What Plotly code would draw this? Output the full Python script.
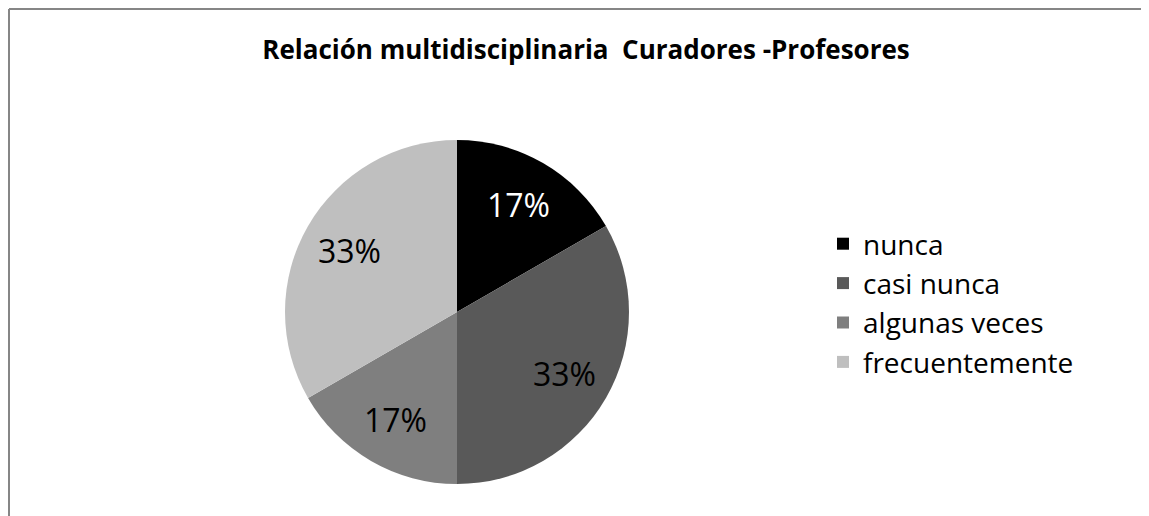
import math
import plotly.graph_objects as go

categories = ["nunca", "casi nunca", "algunas veces", "frecuentemente"]
values = [1, 2, 1, 2]
colors = ["#000000", "#595959", "#7f7f7f", "#bfbfbf"]
label_colors = ["#ffffff", "#000000", "#000000", "#000000"]

W, H = 1149, 516
# page has an 8px body margin, so figure coords are screen coords minus 8
cx, cy, r = 449, 304, 172

fig = go.Figure(data=[
    go.Pie(labels=categories, values=values, sort=False, direction='clockwise', rotation=0,
           marker=dict(colors=colors, line=dict(width=0)),
           textinfo='none', hoverinfo='label+percent',
           domain=dict(x=[(cx - r) / W, (cx + r) / W], y=[(H - cy - r) / H, (H - cy + r) / H]))
])

# percentage labels at ~0.72 of the radius, on each slice's mid angle
total = sum(values)
start = 0
annotations = []
for v, col in zip(values, label_colors):
    mid = (start + v / 2) / total * 2 * math.pi
    start += v
    d = 0.72 * r
    annotations.append(dict(
        x=(cx + d * math.sin(mid)) / W, y=1 - (cy - d * math.cos(mid)) / H,
        xref='paper', yref='paper', xanchor='center', yanchor='middle',
        text='%d%%' % round(v / total * 100), showarrow=False,
        font=dict(size=32, color=col, family='Open Sans')))

fig.update_layout(
    width=W, height=H,
    margin=dict(l=0, r=0, t=0, b=0),
    paper_bgcolor='white', plot_bgcolor='white',
    font=dict(family='Open Sans', color='black'),
    title=dict(text='<b>Relación multidisciplinaria  Curadores -Profesores</b>',
               x=578 / W, xanchor='center', y=1 - 42 / H, yanchor='middle',
               font=dict(size=26, family='Open Sans', color='black')),
    legend=dict(x=815 / W, xanchor='left', y=1 - 211 / H, yanchor='top',
                font=dict(size=28, color='black'), bgcolor='rgba(0,0,0,0)',
                tracegroupgap=0),
    annotations=annotations,
    shapes=[
        dict(type='line', xref='paper', yref='paper', x0=1 / W, x1=1, y0=1 - 1 / H, y1=1 - 1 / H,
             line=dict(color='#868686', width=2)),
        dict(type='line', xref='paper', yref='paper', x0=1 / W, x1=1 / W, y0=0, y1=1 - 1 / H,
             line=dict(color='#868686', width=2)),
    ],
)

fig.write_html("out.html")
